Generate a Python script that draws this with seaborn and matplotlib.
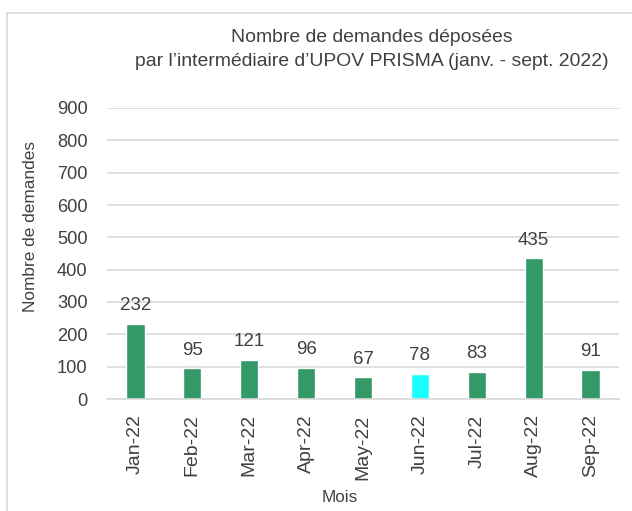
import matplotlib
matplotlib.use("Agg")
import matplotlib.pyplot as plt
import seaborn as sns
import pandas as pd
from matplotlib.patches import Rectangle
from matplotlib import font_manager

months = ["Jan-22", "Feb-22", "Mar-22", "Apr-22", "May-22", "Jun-22", "Jul-22", "Aug-22", "Sep-22"]
counts = [232, 95, 121, 96, 67, 78, 83, 435, 91]
colors = ["#339966", "#339966", "#339966", "#339966", "#339966", "#19FFFF", "#339966", "#339966", "#339966"]
yticks = [0, 100, 200, 300, 400, 500, 600, 700, 800, 900]
title = "Nombre de demandes déposées\npar l\u2019intermédiaire d\u2019UPOV PRISMA (janv. - sept. 2022)"

sns.set_theme(style="white")
plt.rcParams["font.family"] = ["Liberation Sans", "DejaVu Sans"]
text_color = "#404040"
grid_color = "#d9d9d9"

try:
    font_manager.findfont(font_manager.FontProperties(family="Liberation Sans Narrow"),
                          fallback_to_default=False)
    narrow = ["Liberation Sans Narrow", "DejaVu Sans"]
    k = 1.0
except Exception:
    narrow = ["Liberation Sans", "DejaVu Sans"]
    k = 0.82

df = pd.DataFrame({"Mois": months, "Nombre": counts})

fig = plt.figure(figsize=(6.32, 5.11), dpi=100)
ax = fig.add_axes([107 / 632, 1 - 399 / 511, (619 - 107) / 632, (399 - 108) / 511])

sns.barplot(data=df, x="Mois", y="Nombre", hue="Mois", palette=dict(zip(months, colors)),
            dodge=False, legend=False, width=0.32, ax=ax, saturation=1)

for c in ax.containers:
    ax.bar_label(c, padding=7, fontsize=16.5 * k, color=text_color, family=narrow)

ax.set_ylim(0, 900)
ax.set_xlim(-0.5, len(months) - 0.5)
ax.set_yticks(yticks)
ax.set_yticklabels([str(v) for v in yticks], fontsize=16 * k, color=text_color, family=narrow)
ax.yaxis.grid(True, color=grid_color, linewidth=1.2)
ax.set_axisbelow(True)
ax.tick_params(axis="y", length=0, pad=14)

ax.set_xticks(range(len(months)))
ax.set_xticklabels(months, rotation=90, fontsize=14, color=text_color)
ax.tick_params(axis="x", which="major", length=0, pad=11)
ax.set_xticks([i - 0.5 for i in range(len(months) + 1)], minor=True)
ax.tick_params(axis="x", which="minor", length=5, color=grid_color, width=1.2)

for s in ["top", "right", "left"]:
    ax.spines[s].set_visible(False)
ax.spines["bottom"].set_color(grid_color)
ax.spines["bottom"].set_linewidth(1.2)

ax.set_xlabel("Mois", fontsize=15 * k, color=text_color, family=narrow)
ax.xaxis.set_label_coords((340 - 107) / (619 - 107), 1 - (497 - 108) / (399 - 108))
ax.xaxis.label.set_va("center")
ax.set_ylabel("Nombre de demandes", fontsize=15.2 * k, color=text_color, family=narrow)
ax.yaxis.set_label_coords(-(107 - 31) / (619 - 107), (399 - 226) / (399 - 108))
ax.yaxis.label.set_va("center")

fig.text(372 / 632, 1 - 49.5 / 511, title, ha="center", va="center",
         fontsize=17 * k, color=text_color, linespacing=1.5, family=narrow)

fig.patches.append(Rectangle((6.5 / 632, -0.05), 1.2, 1 - 13 / 511 + 0.05,
                             transform=fig.transFigure, fill=False,
                             edgecolor=grid_color, linewidth=1.2))

fig.savefig("out.png", dpi=100)
